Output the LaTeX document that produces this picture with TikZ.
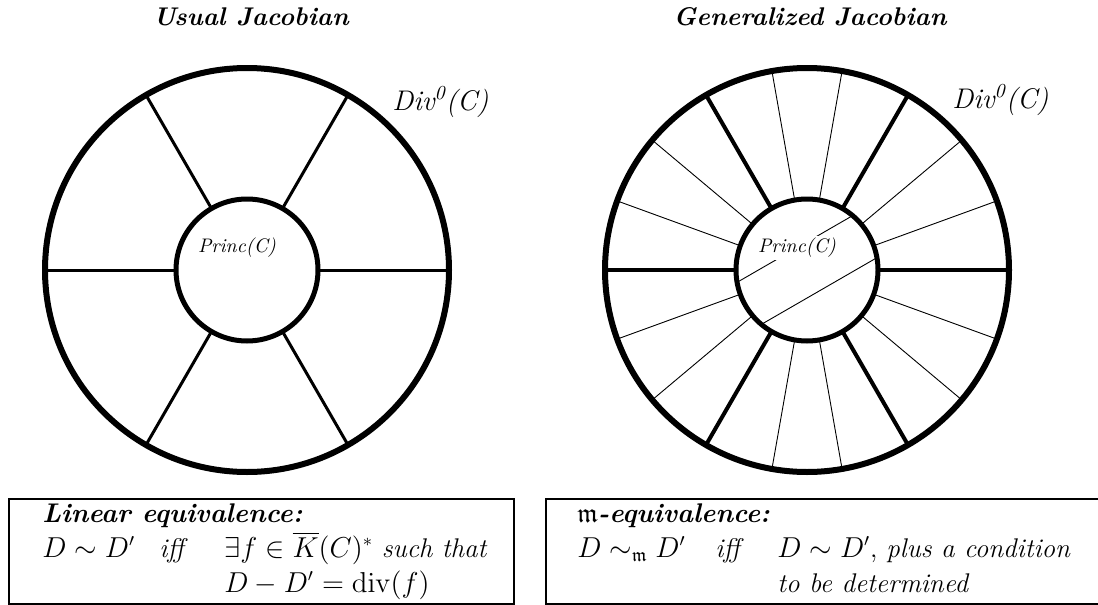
\documentclass[tikz,border=0pt]{standalone}
\usepackage{amsmath,amssymb}
\usepackage{tikz}
\usetikzlibrary{positioning,calc}

\begin{document}
\begin{tikzpicture}[x=0.5pt,y=-0.5pt]
    \tikzset{rim/.style={circle,draw,line width=3pt,minimum size=202pt,inner sep=0pt,outer sep=0pt},
      core/.style={circle,draw,line width=2.5pt,minimum size=71pt,inner sep=0pt,outer sep=0pt},
      spoke/.style={line width=1.5pt}, spokebold/.style={line width=2pt}, fine/.style={line width=0.45pt},
      heading/.style={font=\fontsize{12.8}{14}\selectfont\bfseries\itshape},
      tag/.style={font=\fontsize{9.8}{11}\selectfont\itshape,inner sep=1pt},
      divtag/.style={font=\fontsize{14.2}{16}\selectfont\itshape,anchor=west,inner sep=0pt},
      eqbox/.style={draw,line width=1pt,anchor=north west,minimum height=52.5pt,inner sep=0pt},
      eqtext/.style={font=\fontsize{13.5}{15}\selectfont,anchor=base west,inner sep=0pt}}
    \useasboundingbox (0,0) rectangle (1098,605);
    \node[heading] (titleL) at (251,17) {Usual Jacobian};
    \node[heading] (titleR) at (810,17) {Generalized Jacobian};
    \node[rim] (outL) at (247,270) {};
    \node[core] (inL) at (247,270) {};
    \node[rim] (outR) at (807,270) {};
    \node[core] (inR) at (807,270) {};
    \foreach \a in {0,60,...,300} {
      \draw[spoke] (inL.\a) -- (outL.\a);
      \draw[spokebold] (inR.\a) -- (outR.\a);
    }
    \foreach \a in {20,40,80,100,140,160,200,220,260,280,320,340}
      \draw[fine] (inR.\a) -- (outR.\a);
    \draw[fine] (inR.50) -- (inR.190);
    \draw[fine] (inR.10) -- (inR.230);
    \node[tag] (princL) at (237,248) {Princ(C)};
    \node[tag,fill=white] (princR) at (797,248) {Princ(C)};
    \node[divtag] (divL) at (392,102) {Div\textsuperscript{0}(C)};
    \node[divtag] (divR) at (952,100) {Div\textsuperscript{0}(C)};
    \node[eqbox,minimum width=252.5pt] (boxL) at (8,498) {};
    \node[eqbox,minimum width=285pt] (boxR) at (545,498) {};
    \node[eqtext] (linL) at (42,522) {\textbf{\textit{Linear equivalence:}}};
    \node[eqtext] (relL) at (42,557) {$D\sim D'$};
    \node[eqtext] (iffL) at (159,557) {\textit{iff}};
    \node[eqtext] (exL) at (224,557) {$\exists f\in\overline{K}(C)^*$ \textit{such that}};
    \node[eqtext] (divfL) at (224,592) {$D-D'=\mathrm{div}(f)$};
    \node[eqtext] (linR) at (577,522) {$\mathfrak{m}$\textbf{\textit{-equivalence:}}};
    \node[eqtext] (relR) at (577,557) {$D\sim_{\mathfrak{m}} D'$};
    \node[eqtext] (iffR) at (715,557) {\textit{iff}};
    \node[eqtext] (plusR) at (777,557) {$D\sim D'$, \textit{plus a condition}};
    \node[eqtext] (detR) at (777,592) {\textit{to be determined}};
  \end{tikzpicture}
\end{document}
